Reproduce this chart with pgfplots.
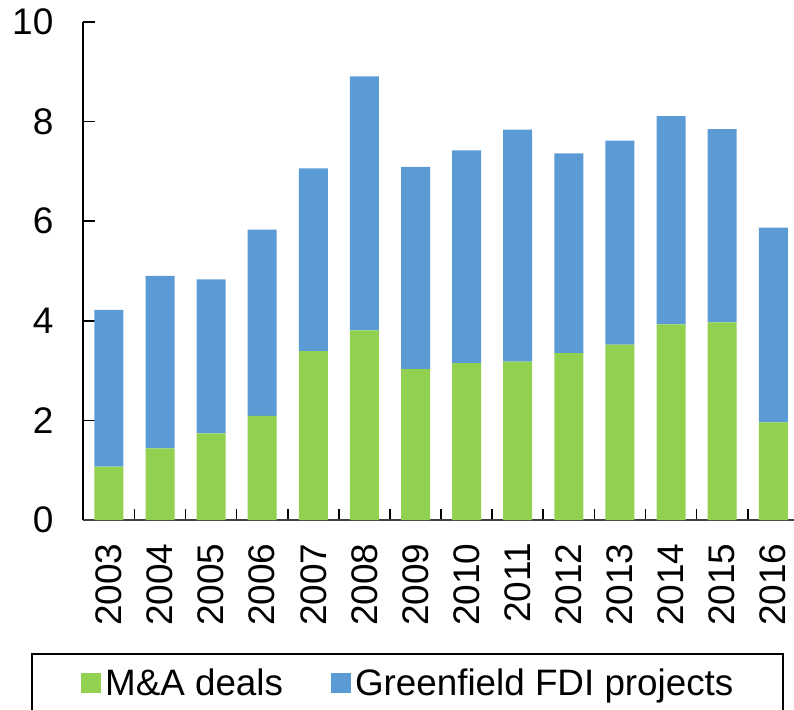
\documentclass[border=0pt]{standalone}
\usepackage{pgfplots}
\pgfplotsset{compat=1.18}
\usepackage{pgfplotstable}
\usepackage{fontspec}
\setmainfont{Liberation Sans}
\definecolor{magreen}{RGB}{146,208,80}
\definecolor{gfblue}{RGB}{91,155,213}
\pgfplotstableread{
x ma gf
0 1.07 3.15
1 1.44 3.46
2 1.74 3.09
3 2.09 3.74
4 3.39 3.67
5 3.81 5.10
6 3.03 4.06
7 3.15 4.27
8 3.18 4.66
9 3.35 4.01
10 3.52 4.10
11 3.93 4.18
12 3.97 3.88
13 1.96 3.91
}\datatable
\begin{document}
\begin{tikzpicture}
\path[use as bounding box] (-41.7pt,-94.5pt) rectangle (355.3pt,260pt);
\begin{axis}[
  at={(12.775pt,0pt)}, anchor=origin,
  scale only axis,
  width=357.7pt, height=249pt,
  xmin=-0.5, xmax=13.5,
  ymin=0, ymax=10,
  ybar stacked,
  bar width=14.5pt,
  axis x line=bottom, axis y line=left,
  x axis line style={-, black!75, line width=1pt},
  y axis line style={-, black, line width=1pt},
  tick align=inside,
  major tick length=6pt,
  minor tick length=5.5pt,
  tick style={black, line width=0.8pt},
  xtick={0,...,13},
  xticklabels={2003,2004,2005,2006,2007,2008,2009,2010,2011,2012,2013,2014,2015,2016},
  major x tick style={draw=none},
  minor xtick={0.5,1.5,...,12.5},
  ytick={0,2,...,10},
  /pgf/number format/assume math mode=true,
  ticklabel style={font=\fontsize{18.5}{21}\selectfont},
  xticklabel style={rotate=90, anchor=east, inner sep=0pt, xshift=-11.5pt},
  yticklabel style={anchor=east, inner sep=0pt, xshift=-14.8pt},
  legend columns=2,
  legend style={draw=none, fill=none, at={(0.4555,-0.3283)}, anchor=center,
    font=\fontsize{18.4}{21}\selectfont,
    /tikz/every even column/.append style={column sep=22pt}},
  legend image code/.code={\fill[#1] (0pt,-5pt) rectangle (10pt,5pt);},
]
\addplot[fill=magreen, draw=none] table[x=x, y=ma] {\datatable};
\addlegendentry{M\&A deals}
\addplot[fill=gfblue, draw=none] table[x=x, y=gf] {\datatable};
\addlegendentry{Greenfield FDI projects}
\end{axis}
\draw[black, line width=1pt] (-25.85pt,-67pt) rectangle (349.8pt,-100pt);
\end{tikzpicture}
\end{document}
